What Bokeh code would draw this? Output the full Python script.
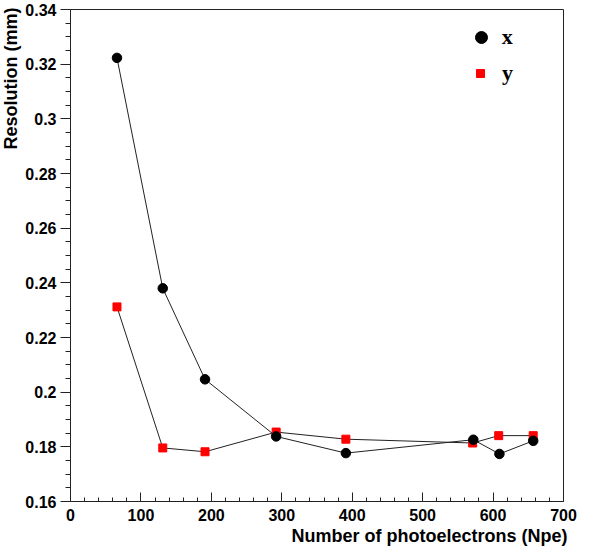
import numpy as np
from bokeh.plotting import figure
from bokeh.models import (Range1d, SingleIntervalTicker, FixedTicker, CustomJSTickFormatter,
                          Legend, LegendItem, Title)
from bokeh.embed import file_html
from bokeh.resources import INLINE

# ---- data ----
npe_x = [66, 131, 191, 292, 391, 572, 609, 657]
res_x = [0.3223, 0.2380, 0.2047, 0.1838, 0.1777, 0.1826, 0.1774, 0.1822]
npe_y = [66, 131, 191, 292, 391, 571, 608, 657]
res_y = [0.2312, 0.1796, 0.1782, 0.1854, 0.1828, 0.1814, 0.1841, 0.1841]
y_ticks = [0.16, 0.18, 0.20, 0.22, 0.24, 0.26, 0.28, 0.30, 0.32, 0.34]
series_names = ["x", "y"]
x_title = "Number of photoelectrons (Npe)"
y_title = "Resolution (mm)"

AX = "#222222"
SANS = "Liberation Sans"

p = figure(width=590, height=549, output_backend="svg", toolbar_location=None,
           x_range=Range1d(0, 700), y_range=Range1d(0.16, 0.34),
           min_border_left=70, min_border_right=27, min_border_top=9, min_border_bottom=47)
p.grid.visible = False
p.outline_line_color = AX
p.outline_line_width = 1
p.background_fill_color = "white"
p.border_fill_color = "white"

# x axis: ticks inside
xa = p.xaxis[0]
xa.ticker = SingleIntervalTicker(interval=100, num_minor_ticks=5)
xa.major_tick_in = 9
xa.major_tick_out = 0
xa.minor_tick_in = 4
xa.minor_tick_out = 0
xa.major_label_standoff = 7

# y axis: ticks outside
ya = p.yaxis[0]
minor = [round(v, 3) for v in np.arange(0.16, 0.3401, 0.005)]
ya.ticker = FixedTicker(ticks=y_ticks, minor_ticks=minor)
ya.formatter = CustomJSTickFormatter(code="return String(Number(tick.toFixed(3)));")
ya.major_tick_out = 10
ya.major_tick_in = 0
ya.minor_tick_out = 5
ya.minor_tick_in = 0
ya.major_label_standoff = 4

for ax in (xa, ya):
    ax.axis_line_color = AX
    ax.major_tick_line_color = AX
    ax.minor_tick_line_color = AX
    ax.major_label_text_font = SANS
    ax.major_label_text_font_style = "bold"
    ax.major_label_text_font_size = "16px"
    ax.major_label_text_color = "black"

# axis titles, right/top aligned at the axis end (ROOT style)
title_style = dict(text_font=SANS, text_font_style="bold", text_font_size="18px",
                   text_color="black", align="right", vertical_align="top")
p.add_layout(Title(text=x_title, standoff=4, offset=-4, **title_style), "below")
p.add_layout(Title(text=y_title, standoff=0, offset=-2, **title_style), "left")

# series (red first, black on top)
p.line(npe_y, res_y, line_color=AX, line_width=1)
r_y = p.scatter(npe_y, res_y, marker="square", size=8, fill_color="#ff0000", line_color="#ff0000")
p.line(npe_x, res_x, line_color=AX, line_width=1)
r_x = p.scatter(npe_x, res_x, marker="circle", size=9.5, fill_color="black", line_color="black")

# legends
common = dict(padding=0, margin=0, spacing=0, border_line_color=None, background_fill_alpha=0,
              label_text_font="Liberation Serif", label_text_font_style="bold",
              label_text_font_size="22px", label_text_color="black")
leg1 = Legend(items=[LegendItem(label=series_names[0], renderers=[r_x])], location=(395.7, 448.7),
              glyph_width=30, glyph_height=30, label_standoff=6, **common)
leg2 = Legend(items=[LegendItem(label=series_names[1], renderers=[r_y])], location=(400, 413),
              glyph_width=20, glyph_height=30, label_standoff=12, **common)
p.add_layout(leg1)
p.add_layout(leg2)

open("out.html", "w").write(file_html(p, INLINE))
